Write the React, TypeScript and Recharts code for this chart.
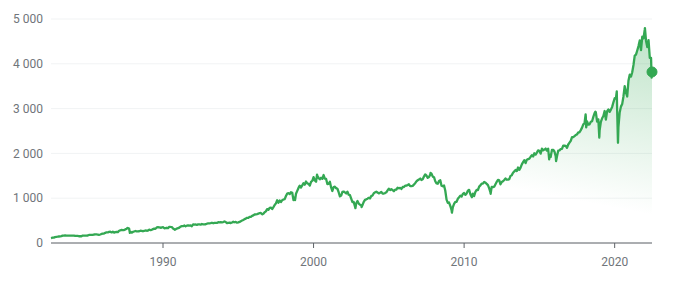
import React from "react"
import { AreaChart, Area, XAxis, YAxis, CartesianGrid, ReferenceDot } from "recharts"

// month-end closes, Aug 1982 – Dec 1989
const close1980s = [
    119.5, 120.4, 133.7, 138.5, 140.6,
    145.3, 148.1, 153.0, 164.4, 162.4, 168.1, 162.6, 164.4, 166.1, 163.6, 166.4, 164.9,
    163.4, 157.1, 159.2, 160.1, 150.6, 153.2, 150.7, 166.7, 166.1, 166.1, 163.6, 167.2,
    179.6, 181.2, 180.7, 179.8, 189.6, 191.9, 190.9, 188.6, 182.1, 189.8, 202.2, 211.3,
    211.8, 226.9, 238.9, 235.5, 247.4, 250.8, 236.1, 252.9, 231.3, 243.0, 249.2, 242.2,
    274.1, 284.2, 291.7, 288.4, 290.1, 304.0, 318.7, 329.8, 321.8, 251.8, 230.3, 247.1,
    257.1, 267.8, 258.9, 261.3, 262.2, 273.5, 272.0, 261.5, 271.9, 279.0, 273.7, 277.7,
    297.5, 288.9, 294.9, 309.6, 320.5, 318.0, 346.1, 351.5, 349.2, 340.4, 346.0, 353.4,
]

const close1990s = [
    329.1, 331.9, 339.9, 330.8, 361.2, 358.0, 356.2, 322.6, 306.1, 304.0, 322.2, 330.2,
    343.9, 367.1, 375.2, 375.3, 389.8, 371.2, 387.8, 395.4, 387.9, 392.5, 375.2, 417.1,
    408.8, 412.7, 403.7, 415.0, 415.4, 408.1, 424.2, 414.0, 417.8, 418.7, 431.4, 435.7,
    438.8, 443.4, 451.7, 440.2, 450.2, 451.0, 448.1, 463.6, 458.9, 467.8, 461.8, 466.5,
    481.6, 467.1, 445.8, 450.9, 456.5, 444.3, 458.3, 475.5, 462.7, 472.4, 453.7, 459.3,
    470.4, 487.4, 500.7, 514.7, 533.4, 544.8, 562.1, 561.9, 584.4, 581.5, 605.4, 615.9,
    636.0, 640.4, 645.5, 654.2, 669.1, 670.6, 640.0, 652.0, 687.3, 705.3, 757.0, 740.7,
    786.2, 790.8, 757.1, 801.3, 848.3, 885.1, 954.3, 899.5, 947.3, 914.6, 955.4, 970.4,
    980.3, 1049.3, 1101.8, 1111.8, 1090.8, 1133.8, 1120.7, 957.3, 1017.0, 1098.7, 1163.6, 1229.2,
    1279.6, 1238.3, 1286.4, 1335.2, 1301.8, 1372.7, 1328.7, 1320.4, 1282.7, 1362.9, 1388.9, 1469.3,
]

const close2000s = [
    1394.5, 1366.4, 1498.6, 1452.4, 1420.6, 1454.6, 1430.8, 1517.7, 1436.5, 1429.4, 1315.2, 1320.3,
    1366.0, 1239.9, 1160.3, 1249.5, 1255.8, 1224.4, 1211.2, 1133.6, 1040.9, 1059.8, 1139.5, 1148.1,
    1130.2, 1106.7, 1147.4, 1076.9, 1067.1, 989.8, 911.6, 916.1, 815.3, 885.8, 936.3, 879.8,
    855.7, 841.2, 848.2, 916.9, 963.6, 974.5, 990.3, 1008.0, 996.0, 1050.7, 1058.2, 1111.9,
    1131.1, 1144.9, 1126.2, 1107.3, 1120.7, 1140.8, 1101.7, 1104.2, 1114.6, 1130.2, 1173.8, 1211.9,
    1181.3, 1203.6, 1180.6, 1156.9, 1191.5, 1191.3, 1234.2, 1220.3, 1228.8, 1207.0, 1249.5, 1248.3,
    1280.1, 1280.7, 1294.9, 1310.6, 1270.1, 1270.2, 1276.7, 1303.8, 1335.9, 1377.9, 1400.6, 1418.3,
    1438.2, 1406.8, 1420.9, 1482.4, 1530.6, 1503.4, 1455.3, 1474.0, 1526.8, 1549.4, 1481.1, 1468.4,
    1378.6, 1330.6, 1322.7, 1385.6, 1400.4, 1280.0, 1267.4, 1282.8, 1166.4, 968.8, 896.2, 903.3,
    825.9, 735.1, 797.9, 872.8, 919.1, 919.3, 987.5, 1020.6, 1057.1, 1036.2, 1095.6, 1115.1,
]

const close2010s = [
    1073.9, 1104.5, 1169.4, 1186.7, 1089.4, 1030.7, 1101.6, 1049.3, 1141.2, 1183.3, 1180.6, 1257.6,
    1286.1, 1327.2, 1325.8, 1363.6, 1345.2, 1320.6, 1292.3, 1218.9, 1131.4, 1253.3, 1247.0, 1257.6,
    1312.4, 1365.7, 1408.5, 1397.9, 1310.3, 1362.2, 1379.3, 1406.6, 1440.7, 1412.2, 1416.2, 1426.2,
    1498.1, 1514.7, 1569.2, 1597.6, 1630.7, 1606.3, 1685.7, 1633.0, 1681.6, 1756.5, 1805.8, 1848.4,
    1782.6, 1859.5, 1872.3, 1884.0, 1923.6, 1960.2, 1930.7, 2003.4, 1972.3, 2018.1, 2067.6, 2058.9,
    1995.0, 2104.5, 2067.9, 2085.5, 2107.4, 2063.1, 2103.8, 1972.2, 1920.0, 2079.4, 2080.4, 2043.9,
    1940.2, 1932.2, 2059.7, 2065.3, 2097.0, 2098.9, 2173.6, 2171.0, 2168.3, 2126.2, 2198.8, 2238.8,
    2278.9, 2363.6, 2362.7, 2384.2, 2411.8, 2423.4, 2470.3, 2471.7, 2519.4, 2575.3, 2647.6, 2673.6,
    2823.8, 2713.8, 2640.9, 2648.1, 2705.3, 2718.4, 2816.3, 2901.5, 2914.0, 2711.7, 2760.2, 2506.9,
    2704.1, 2784.5, 2834.4, 2945.8, 2752.1, 2941.8, 2980.4, 2926.5, 2976.7, 3037.6, 3141.0, 3230.8,
]

// Jan 2020 – May 2022
const close2020s = [
    3225.5, 2954.2, 2584.6, 2912.4, 3044.3, 3100.3, 3271.1, 3500.3, 3363.0, 3270.0, 3621.6, 3756.1,
    3714.2, 3811.2, 3972.9, 4181.2, 4204.1, 4297.5, 4395.3, 4522.7, 4307.5, 4605.4, 4567.0, 4766.2,
    4515.6, 4373.9, 4530.4, 4131.9, 4132.2,
]

// intra-month highs and lows (decimal year)
const swingDates = [
    1982.56, 1987.65, 1987.8, 1990.78, 1998.77, 2000.23, 2002.78, 2003.19, 2007.77, 2009.19,
    2010.52, 2011.76, 2015.65, 2016.11, 2018.07, 2018.11, 2018.72, 2018.98, 2020.14, 2020.22,
    2022.01, 2022.455, 2022.48,
]
const swingCloses = [
    110, 336.8, 224.8, 295.5, 959.4, 1527.5, 776.8, 800.7, 1565.2, 676.5,
    1022.6, 1099.2, 1867.6, 1829.1, 2872.9, 2581.0, 2930.8, 2351.1, 3386.2, 2237.4,
    4796.6, 3690, 3818,
]

const yTicks = [0, 1000, 2000, 3000, 4000, 5000]
const xTicks = [1990, 2000, 2010, 2020]

const monthEnds = (year: number, month: number, values: number[]) =>
    values.map((v, i) => ({ t: year + (month + i) / 12, close: v }))

const data = [
    ...monthEnds(1982, 8, close1980s),
    ...monthEnds(1990, 1, close1990s),
    ...monthEnds(2000, 1, close2000s),
    ...monthEnds(2010, 1, close2010s),
    ...monthEnds(2020, 1, close2020s),
    ...swingDates.map((t, i) => ({ t, close: swingCloses[i] })),
].sort((a, b) => a.t - b.t)

const last = data[data.length - 1]

const fmt = (v: number) => String(v).replace(/\B(?=(\d{3})+(?!\d))/g, "\u00a0")

const GREEN = "#34a853"
const tickStyle = { fill: "#70757a", fontSize: 12, fontFamily: "Roboto, Arial, sans-serif" }

export default function App() {
    return (
        <div style={{ position: "absolute", left: 0, top: 0, width: 679, height: 282, background: "#fff" }}>
            <AreaChart width={679} height={282} data={data} margin={{ top: 19, right: 27, left: 0, bottom: 0 }}>
                <defs>
                    <linearGradient id="fillFade" x1="1" y1="0" x2="0.55" y2="0.85">
                        <stop offset="0%" stopColor={GREEN} stopOpacity={0.32} />
                        <stop offset="80%" stopColor={GREEN} stopOpacity={0} />
                    </linearGradient>
                </defs>
                <CartesianGrid stroke="#f1f3f4" vertical={false} />
                <XAxis
                    dataKey="t"
                    type="number"
                    domain={[1982.56, 2022.48]}
                    ticks={xTicks}
                    height={39}
                    tick={tickStyle}
                    tickSize={5}
                    tickMargin={9}
                    stroke="#5f6368"
                />
                <YAxis
                    domain={[0, 5000]}
                    ticks={yTicks}
                    width={51}
                    tick={tickStyle}
                    tickFormatter={fmt}
                    tickLine={false}
                    axisLine={false}
                />
                <Area
                    type="linear"
                    dataKey="close"
                    stroke={GREEN}
                    strokeWidth={2.3}
                    strokeLinejoin="round"
                    fill="url(#fillFade)"
                    fillOpacity={1}
                    dot={false}
                    activeDot={false}
                    isAnimationActive={false}
                />
                <ReferenceDot x={last.t} y={last.close} r={5} fill={GREEN} stroke={GREEN} strokeWidth={1} />
            </AreaChart>
        </div>
    )
}
